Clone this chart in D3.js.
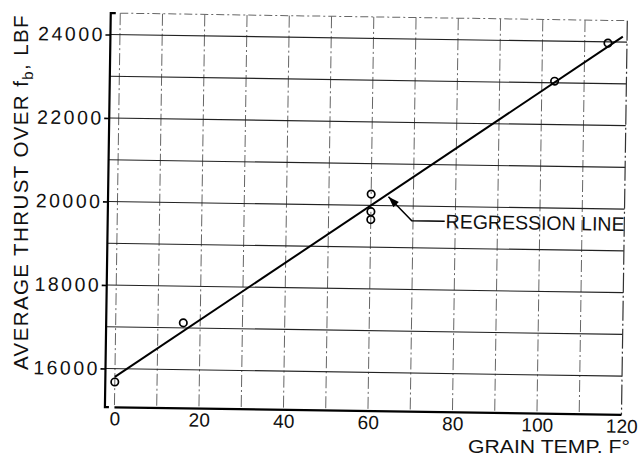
<!DOCTYPE html>
<html>
<head>
<meta charset="utf-8">
<script src="https://cdn.jsdelivr.net/npm/d3@7"></script>
<style>
body { margin: 0; background: #fff; }
svg { display: block; font-family: "Liberation Sans", Arial, sans-serif; }
</style>
</head>
<body>
<svg></svg>
<script>
// values
let grainTemp = [0, 16, 60, 60, 60, 103, 115.5];
let avgThrust = [15680, 17120, 20270, 19850, 19660, 23040, 23970];

let regTemp = [0, 119];
let regThrust = [15800, 24130];

let xTickValues = [0, 20, 40, 60, 80, 100, 120];
let yTickValues = [16000, 18000, 20000, 22000, 24000];
let xGridValues = [0, 10, 20, 30, 40, 50, 60, 70, 80, 90, 100, 110];
let yGridValues = [16000, 17000, 18000, 19000, 20000, 21000, 22000, 23000, 24000];

let noteTip = [64.1, 20213];
let noteBend = [69.7, 19645];
let noteEnd = [77.5, 19645];
let noteText = "REGRESSION LINE";
let xTitle = "GRAIN TEMP. F°";

let width = 640;
let height = 457;

let svg = d3.select("svg")
    .attr("width", width)
    .attr("height", height);

let xScale = d3.scaleLinear().domain([-2.25, 120]).range([107.8, 624.4]);
let yScale = d3.scaleLinear().domain([15073, 24515]).range([411, 16.8]);

// the scan is tilted slightly clockwise
let g = svg.append("g").attr("transform", "rotate(0.85, 365, 215)");

let x0 = xScale.range()[0];
let x1 = xScale(120);
let yTop = yScale.range()[1];
let yBot = yScale.range()[0];

// grid
g.selectAll(".vgrid")
    .data(xGridValues)
    .enter()
    .append("line")
    .attr("class", "vgrid")
    .attr("x1", d => xScale(d)).attr("x2", d => xScale(d))
    .attr("y1", yTop).attr("y2", yBot)
    .attr("stroke", "#555")
    .attr("stroke-width", 0.9)
    .attr("stroke-dasharray", "12,3,2,3");

g.selectAll(".hgrid")
    .data(yGridValues)
    .enter()
    .append("line")
    .attr("class", "hgrid")
    .attr("x1", x0).attr("x2", x1)
    .attr("y1", d => yScale(d)).attr("y2", d => yScale(d))
    .attr("stroke", "#222")
    .attr("stroke-width", 1.1);

// frame
g.append("line") // top, dashed
    .attr("x1", xScale(0)).attr("x2", x1)
    .attr("y1", yTop).attr("y2", yTop)
    .attr("stroke", "#666").attr("stroke-width", 1)
    .attr("stroke-dasharray", "8,3,2,3");
g.append("line") // right
    .attr("x1", x1).attr("x2", x1)
    .attr("y1", yTop).attr("y2", yBot)
    .attr("stroke", "#333").attr("stroke-width", 1.2)
    .attr("stroke-dasharray", "20,3,2,3");
g.append("path") // left bracket
    .attr("d", `M${x0 + 5},${yTop}H${x0}V${yBot}H${x0 + 4}`)
    .attr("fill", "none")
    .attr("stroke", "#000").attr("stroke-width", 2.2);
g.append("line") // bottom
    .attr("x1", xScale(0)).attr("x2", x1)
    .attr("y1", yBot).attr("y2", yBot)
    .attr("stroke", "#000").attr("stroke-width", 2.2);

// axes
let yAxis = d3.axisLeft(yScale)
    .tickValues(yTickValues)
    .tickFormat(d3.format("d"))
    .tickSize(5)
    .tickPadding(0.5);
let yG = g.append("g")
    .attr("transform", "translate(" + x0 + ",0)")
    .call(yAxis);
yG.select(".domain").remove();
yG.selectAll("line").attr("stroke", "#000").attr("stroke-width", 1.6);
yG.selectAll("text")
    .attr("font-size", 19.5)
    .attr("letter-spacing", 2.5)
    .attr("fill", "#111")
    .style("font-family", "Liberation Sans, Arial, sans-serif");

let xAxis = d3.axisBottom(xScale).tickValues(xTickValues).tickSize(0).tickPadding(4.5);
let xG = g.append("g")
    .attr("transform", "translate(0," + yBot + ")")
    .call(xAxis);
xG.select(".domain").remove();
xG.selectAll("text")
    .attr("font-size", 19)
    .attr("fill", "#111")
    .style("font-family", "Liberation Sans, Arial, sans-serif");

// x title sits level in the scan
svg.append("text")
    .attr("x", 468)
    .attr("y", 453)
    .attr("font-size", 17.5)
    .attr("fill", "#111")
    .attr("textLength", 162)
    .attr("lengthAdjust", "spacingAndGlyphs")
    .text(xTitle);

// regression line
let line = d3.line()
    .x(d => xScale(d[0]))
    .y(d => yScale(d[1]));
g.append("path")
    .datum(regTemp.map((t, i) => [t, regThrust[i]]))
    .attr("d", line)
    .attr("fill", "none")
    .attr("stroke", "#000")
    .attr("stroke-width", 2);

// data points
g.selectAll(".pt")
    .data(grainTemp)
    .enter()
    .append("circle")
    .attr("class", "pt")
    .attr("cx", d => xScale(d))
    .attr("cy", (d, i) => yScale(avgThrust[i]))
    .attr("r", 3.7)
    .attr("fill", "none")
    .attr("stroke", "#000")
    .attr("stroke-width", 1.7);

// annotation
let tip = [xScale(noteTip[0]), yScale(noteTip[1])];
let bend = [xScale(noteBend[0]), yScale(noteBend[1])];
let end = [xScale(noteEnd[0]), yScale(noteEnd[1])];
g.append("path")
    .attr("d", `M${tip[0]},${tip[1]}L${bend[0]},${bend[1]}L${end[0]},${end[1]}`)
    .attr("fill", "none")
    .attr("stroke", "#000")
    .attr("stroke-width", 1.5);

let dx = tip[0] - bend[0], dy = tip[1] - bend[1];
let len = Math.sqrt(dx * dx + dy * dy);
let ux = dx / len, uy = dy / len;
let headL = 11, headW = 3.8;
let bx = tip[0] - ux * headL, by = tip[1] - uy * headL;
g.append("path")
    .attr("d", `M${tip[0]},${tip[1]}L${bx - uy * headW},${by + ux * headW}L${bx + uy * headW},${by - ux * headW}Z`)
    .attr("fill", "#000");

g.append("text")
    .attr("x", end[0] + 1)
    .attr("y", end[1])
    .attr("dy", "0.36em")
    .attr("font-size", 19.5)
    .attr("fill", "#111")
    .text(noteText);

// y title (not tilted)
let yt = svg.append("text")
    .attr("transform", "translate(27.5,370) rotate(-90)")
    .attr("font-size", 20.5)
    .attr("letter-spacing", 1.4)
    .attr("fill", "#111");
yt.append("tspan").text("AVERAGE THRUST OVER f");
yt.append("tspan").attr("dy", 5).attr("font-size", 15).text("b");
yt.append("tspan").attr("dy", -5).text(", LBF");
</script>
</body>
</html>
